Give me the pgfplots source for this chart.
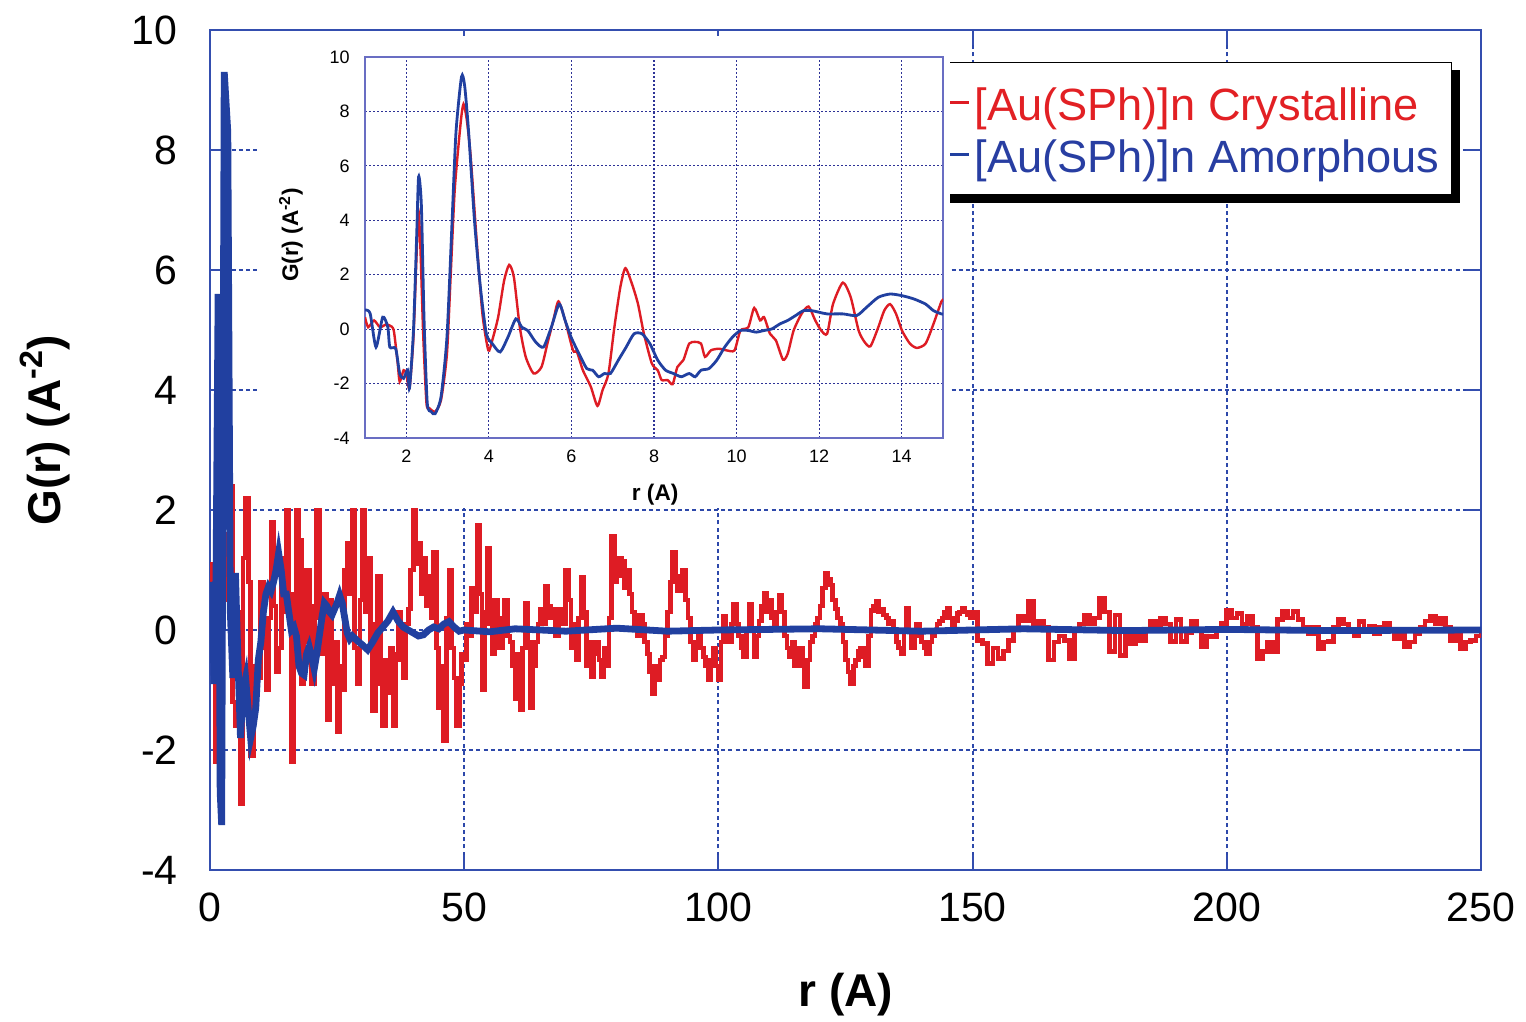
\documentclass[border=0pt]{standalone}
\usepackage{fontspec}
\setmainfont{Liberation Sans}
\usepackage{pgfplots}
\pgfplotsset{compat=1.18}
\definecolor{cred}{RGB}{222,28,36}
\definecolor{cblue}{RGB}{33,64,160}
\definecolor{frame}{RGB}{52,78,175}
\definecolor{mgrid}{RGB}{45,72,170}
\definecolor{iframe}{RGB}{105,110,195}
\definecolor{igrid}{RGB}{45,50,150}
\definecolor{lred}{RGB}{226,32,36}
\definecolor{lblue}{RGB}{40,62,162}
\begin{document}
\begin{tikzpicture}
\path[use as bounding box, fill=white] (0,0) rectangle (763pt,511pt);
\begin{axis}[
  at={(105pt,76pt)}, anchor=south west,
  width=635.5pt, height=420pt, scale only axis,
  xmin=0, xmax=250, ymin=-4, ymax=10,
  xtick={0,50,100,150,200,250},
  ytick={-4,-2,0,2,4,6,8,10},
  yticklabels={-4,-2,0,2,4,6,8,10},
  xticklabels={0,50,100,150,200,250},
  tick align=inside, major tick length=7.5pt,
  tick style={frame, line width=1pt},
  axis line style={frame, line width=1.2pt},
  grid=major,
  major grid style={mgrid, line width=1pt, dash pattern=on 2pt off 1.6pt},
  ticklabel style={font=\fontsize{20.5}{24}\selectfont},
  xticklabel style={inner sep=0pt, anchor=north, yshift=-11pt},
  yticklabel style={inner sep=0pt, anchor=east, xshift=-16pt},
  xlabel={\textbf{r (A)}},
  ylabel={\textbf{G(r) (A\textsuperscript{-2})}},
  label style={font=\fontsize{23}{27}\selectfont},
  xlabel style={at={(axis description cs:0.5004,-0.1488)}, anchor=center},
  ylabel style={at={(axis description cs:-0.1298,0.5238)}, anchor=center, rotate=0},
  legend style={name=leg, at={(axis description cs:0.9772,0.9619)}, anchor=north east,
    draw=black, line width=0.7pt, fill=white, inner xsep=4pt, inner ysep=7pt,
    font=\fontsize{22.6}{27}\selectfont,
    nodes={inner xsep=2pt, inner ysep=0pt, text height=22pt, text depth=4pt}},
  legend image code/.code={\draw[#1, line width=1.6pt] (0pt,0pt) -- (21pt,0pt);},
  legend cell align=left,
]
\addplot[const plot, cred, line width=2.4pt] coordinates {
(0,0) (0.5,1.1) (1,-2.2) (1.5,-0.6) (2,0.4) (2.5,1.0) (3,1.6) (3.5,0.5) (4,2.4) (4.5,-1.2)
(5,-1.6) (5.5,0.3) (6,-2.9) (6.5,1.2) (7,2.2) (7.5,0.8) (8,-2.1) (8.5,-1.0) (9,-0.6) (9.5,-0.8)
(10,0.8) (10.5,-0.3) (11,-1.0) (11.5,0.2) (12,1.8) (12.5,0.4) (13,-0.7) (13.5,-0.3) (14,1.2) (14.5,0.3)
(15,2.5) (15.5,0.6) (16,-2.2) (16.5,-0.5) (17,2.5) (17.5,1.5) (18,-0.9) (18.5,-0.2) (19,1.0) (19.5,0.2)
(20,-0.9) (20.5,0.4) (21,2.5) (21.5,0.2) (22,-0.4) (22.5,0.6) (23,-1.5) (23.5,0.5) (24,-0.9) (24.5,-0.2)
(25,-1.7) (25.5,-0.6) (26,-1.0) (26.5,1.0) (27,1.45) (27.5,0.6) (28,2.2) (28.5,-0.3) (29,-0.9) (29.5,0.5)
(30,2.5) (30.5,0.3) (31,1.2) (31.5,-0.2) (32,-1.35) (32.5,0.1) (33,0.9) (33.5,-0.9) (34,-1.6) (34.5,-0.5)
(35,-1.05) (35.5,-0.3) (36,-1.6) (36.5,-0.4) (37,0.3) (37.5,-0.5) (38,-0.8) (38.5,0.1) (39,0.35) (39.5,1.0)
(40,2.5) (40.5,1.1) (41,1.45) (41.5,0.6) (42,1.2) (42.5,0.4) (43,0.9) (43.5,0.2) (44,1.3) (44.5,-0.3)
(45,-1.3) (45.5,-0.6) (46,-1.85) (46.5,0.2) (47,1.0) (47.5,-0.3) (48,-0.8) (48.5,-1.6) (49,-0.9) (49.5,-0.4)
(50,-0.5) (50.5,0.1) (51,-0.1) (51.5,0.7) (52,0.3) (52.5,1.75) (53,0.6) (53.5,-1.0) (54,0.3) (54.5,1.36)
(55,0.1) (55.5,-0.4) (56,0.5) (56.5,0.1) (57,-0.3) (57.5,0.2) (58,0.5) (58.5,-0.1) (59,-0.2) (59.5,-0.6)
(60,-1.15) (60.5,-0.4) (61,-1.33) (61.5,-0.3) (62,0.45) (62.5,-0.2) (63,-1.3) (63.5,-0.6) (64,-0.2) (64.5,0.1)
(65,0.35) (65.5,0.1) (66,0.72) (66.5,0.4) (67,0.2) (67.5,0.35) (68,-0.1) (68.5,0.2) (69,0.35) (69.5,0.1)
(70,0.99) (70.5,0.5) (71,-0.3) (71.5,0.1) (72,-0.5) (72.5,0.2) (73,0.88) (73.5,0.3) (74,-0.6) (74.5,-0.2)
(75,-0.78) (75.5,-0.4) (76,-0.2) (76.5,-0.5) (77,-0.78) (77.5,-0.3) (78,-0.6) (78.5,0.2) (79,1.56) (79.5,0.8)
(80,0.9) (80.5,1.2) (81,1.15) (81.5,0.7) (82,1.0) (82.5,0.6) (83,0.3) (83.5,0.0) (84,-0.1) (84.5,0.25)
(85,0.1) (85.5,-0.2) (86,-0.4) (86.5,-0.7) (87,-1.06) (87.5,-0.6) (88,-0.83) (88.5,-0.5) (89,-0.45) (89.5,-0.1)
(90,0.3) (90.5,0.8) (91,1.3) (91.5,0.9) (92,0.65) (92.5,0.9) (93,1.0) (93.5,0.5) (94,0.2) (94.5,-0.2)
(95,-0.5) (95.5,-0.2) (96,-0.1) (96.5,-0.3) (97,-0.45) (97.5,-0.6) (98,-0.83) (98.5,-0.5) (99,-0.3) (99.5,-0.6)
(100,-0.83) (100.5,-0.2) (101,0.22) (101.5,0.0) (102,-0.2) (102.5,0.1) (103,0.42) (103.5,0.1) (104,-0.1) (104.5,-0.3)
(105,-0.44) (105.5,0.0) (106,0.42) (106.5,0.0) (107,-0.44) (107.5,-0.1) (108,0.15) (108.5,0.4) (109,0.61) (109.5,0.3)
(110,0.5) (110.5,0.2) (111,0.05) (111.5,0.3) (112,0.58) (112.5,0.3) (113,-0.1) (113.5,-0.3) (114,-0.44) (114.5,-0.2)
(115,-0.6) (115.5,-0.4) (116,-0.3) (116.5,-0.6) (117,-0.94) (117.5,-0.5) (118,-0.2) (118.5,-0.1) (119,0.1) (119.5,0.2)
(120,0.4) (120.5,0.7) (121,0.94) (121.5,0.85) (122,0.75) (122.5,0.5) (123,0.35) (123.5,0.2) (124,0.1) (124.5,-0.2)
(125,-0.5) (125.5,-0.7) (126,-0.89) (126.5,-0.6) (127,-0.5) (127.5,-0.35) (128,-0.3) (128.5,-0.45) (129,-0.6) (129.5,-0.1)
(130,0.33) (130.5,0.4) (131,0.47) (131.5,0.3) (132,0.35) (132.5,0.25) (133,0.2) (133.5,0.1) (134,0.15) (134.5,0.0)
(135,-0.2) (135.5,-0.3) (136,-0.4) (136.5,0.0) (137,0.36) (137.5,0.0) (138,-0.3) (138.5,-0.1) (139,0.1) (139.5,0.0)
(140,-0.2) (140.5,-0.3) (141,-0.39) (141.5,-0.2) (142,-0.1) (142.5,0.0) (143,0.1) (143.5,0.15) (144,0.2) (144.5,0.3)
(145,0.36) (145.5,0.2) (146,0.05) (146.5,0.15) (147,0.28) (147.5,0.3) (148,0.36) (148.5,0.3) (149,0.25) (149.5,0.2)
(150,0.3) (151,-0.17) (152,-0.22) (153,-0.56)
(154,-0.3) (155,-0.47) (156,-0.35) (157,-0.17) (158,0.0) (159,0.22) (160,0.15) (161,0.47) (162,0.1) (163,0.14)
(164,0.05) (165,-0.5) (166,-0.2) (167,-0.1) (168,-0.17) (169,-0.47) (170,0.0) (171,0.1) (172,0.25) (173,0.1)
(174,0.2) (175,0.53) (176,0.3) (177,-0.36) (178,0.25) (179,-0.42) (180,-0.1) (181,-0.22) (182,-0.1) (183,-0.17)
(184,0.0) (185,0.14) (186,0.0) (187,0.19) (188,0.1) (189,-0.19) (190,0.17) (191,-0.19) (192,-0.05) (193,0.14)
(194,0.0) (195,-0.28) (196,-0.1) (197,-0.11) (198,0.0) (199,0.11) (200,0.33) (201,0.2) (202,0.28) (203,0.1)
(204,0.22) (205,0.05) (206,-0.47) (207,-0.36) (208,-0.2) (209,-0.36) (210,0.17) (211,0.31) (212,0.2) (213,0.31)
(214,0.17) (215,0.05) (216,-0.06) (217,0.05) (218,-0.31) (219,-0.2) (220,-0.19) (221,0.05) (222,0.17) (223,0.1)
(224,0.0) (225,-0.1) (226,0.14) (227,0.0) (228,0.06) (229,-0.06) (230,0.05) (231,0.11) (232,0.0) (233,-0.14)
(234,-0.05) (235,-0.28) (236,-0.2) (237,-0.06) (238,0.05) (239,0.15) (240,0.22) (241,0.1) (242,0.19) (243,0.05)
(244,-0.17) (245,-0.05) (246,-0.31) (247,-0.2) (248,-0.17) (249,-0.1) (250,0.0)
};
\addplot[cblue, line width=3.4pt] coordinates {
(0,0) (0.4,0.8) (0.8,-0.9) (1.2,1.0) (1.6,5.6) (2.0,-2.7) (2.3,-3.25) (2.8,9.3) (3.5,8.3) (4.0,0.3)
(4.5,-0.8) (5.0,0.95) (5.5,-0.5) (6.0,-1.8) (6.5,-1.0) (7.0,-0.8) (7.5,-1.3) (8.0,-1.8) (8.5,-1.6) (9.0,-1.3)
(9.5,-0.5) (10.0,-0.2) (10.5,0.3) (11.0,0.6) (11.5,0.72) (12.0,0.65) (12.5,0.8) (13.0,1.0) (13.5,1.28) (14.0,1.0)
(14.5,0.6) (15.0,0.6) (15.5,0.3) (16.0,0.0) (16.5,0.05) (17.0,-0.1) (17.5,-0.6) (18.0,-0.72) (18.5,-0.75) (19.0,-0.4)
(19.5,-0.28) (20.0,-0.45) (20.5,-0.65) (21.0,-0.4) (21.5,-0.1) (22.0,0.2) (22.5,0.45) (23.0,0.4) (23.5,0.3) (24.0,0.25)
(24.5,0.35) (25.0,0.45) (25.5,0.58) (26.0,0.45) (26.5,0.2) (27.0,-0.05) (27.5,-0.15) (28.0,-0.1) (29.0,-0.18) (30.0,-0.25)
(31.0,-0.33) (32.0,-0.2) (33.0,-0.05) (34.0,0.05) (35.0,0.15) (36.0,0.3) (37.0,0.15) (38.0,0.05) (39.0,0.0) (40.0,-0.05)
(41.0,-0.1) (42.0,-0.08) (43.0,0.0) (44.0,0.05) (45.0,0.02) (46.0,0.1) (47.0,0.14) (48.0,0.05) (49.0,-0.02) (50.0,0.0)
(55,-0.03) (60,0.02) (70,-0.02) (80,0.03) (90,-0.02) (100,0.0) (120,0.02) (140,-0.02) (160,0.02) (180,-0.01)
(200,0.01) (220,-0.01) (250,0.0)
};
\legend{\textcolor{lred}{[Au(SPh)]n Crystalline},\textcolor{lblue}{[Au(SPh)]n Amorphous}}
\end{axis}
\fill[black] ([yshift=-4pt]leg.north east) rectangle ([xshift=4pt,yshift=-4pt]leg.south east);
\fill[black] ([xshift=4pt]leg.south west) rectangle ([xshift=4pt,yshift=-4pt]leg.south east);
\fill[white] (129pt,257pt) rectangle (475pt,493pt);
\begin{axis}[
  at={(182.5pt,292pt)}, anchor=south west,
  width=289pt, height=190.5pt, scale only axis,
  xmin=1, xmax=15, ymin=-4, ymax=10,
  xtick={2,4,6,8,10,12,14},
  ytick={-4,-2,0,2,4,6,8,10},
  yticklabels={-4,-2,0,2,4,6,8,10},
  xticklabels={2,4,6,8,10,12,14},
  axis line style={iframe, line width=0.7pt},
  major tick length=0pt,
  grid=major,
  major grid style={igrid, line width=0.6pt, dash pattern=on 0.8pt off 1.2pt},
  ticklabel style={font=\fontsize{9}{10}\selectfont},
  xticklabel style={inner sep=0pt, anchor=north, yshift=-6pt},
  yticklabel style={inner sep=0pt, anchor=east, xshift=-7.5pt},
  xlabel={\textbf{r (A)}},
  ylabel={\textbf{G(r) (A\textsuperscript{-2})}},
  label style={font=\fontsize{11.3}{13}\selectfont},
  xlabel style={at={(axis description cs:0.502,-0.150)}, anchor=center},
  ylabel style={at={(axis description cs:-0.128,0.533)}, anchor=center, rotate=0},
]
\addplot[cred, line width=1.2pt, smooth, tension=0.4] coordinates {
(1.000,0.44) (1.076,0.07) (1.219,0.32) (1.363,0.07) (1.506,0.17) (1.601,0.13) (1.697,-0.05) (1.792,-1.26)
(1.840,-1.93) (1.935,-1.51) (2.002,-1.63) (2.078,-2.17) (2.174,-0.29) (2.250,2.75) (2.298,4.33) (2.345,2.87)
(2.412,-0.29) (2.489,-2.72) (2.555,-2.90) (2.698,-3.03) (2.842,-2.60) (2.985,-0.90) (3.080,2.14) (3.176,5.18)
(3.319,7.61) (3.386,8.27) (3.462,7.73) (3.557,6.39) (3.700,3.35) (3.844,0.56) (3.987,-0.78) (4.082,-0.41)
(4.225,0.44) (4.368,1.77) (4.492,2.36) (4.607,1.90) (4.750,0.07) (4.893,-1.02) (5.084,-1.63) (5.275,-1.39)
(5.418,-0.53) (5.561,0.32) (5.685,1.02) (5.847,0.32) (6.038,-0.78) (6.134,-0.84) (6.277,-1.51) (6.468,-2.11)
(6.630,-2.82) (6.754,-2.24) (6.897,-1.63) (7.040,0.07) (7.183,1.53) (7.307,2.24) (7.469,1.65) (7.613,0.92)
(7.756,-0.17) (7.947,-1.26) (8.090,-1.51) (8.185,-1.87) (8.328,-1.87) (8.452,-2.02) (8.567,-1.39) (8.710,-1.14)
(8.853,-0.53) (8.996,-0.47) (9.139,-0.53) (9.235,-1.02) (9.378,-0.78) (9.569,-0.72) (9.760,-0.78) (9.950,-0.78)
(10.094,-0.05) (10.284,0.07) (10.427,0.78) (10.571,0.32) (10.666,0.44) (10.809,-0.17) (10.952,-0.41) (11.124,-1.12)
(11.239,-0.90) (11.382,-0.05) (11.573,0.56) (11.744,0.83) (11.906,0.32) (12.050,-0.05) (12.193,-0.17) (12.336,0.92)
(12.574,1.71) (12.765,1.17) (12.956,-0.05) (13.099,-0.47) (13.242,-0.63) (13.433,0.07) (13.576,0.68) (13.719,0.92)
(13.863,0.56) (14.006,-0.05) (14.197,-0.53) (14.368,-0.69) (14.578,-0.53) (14.769,0.19) (14.960,1.01) (15.0,1.05)
};
\addplot[cblue, line width=1.4pt, smooth, tension=0.4] coordinates {
(1.000,0.70) (1.124,0.58) (1.267,-0.66) (1.429,0.44) (1.553,0.07) (1.601,-0.66) (1.744,-0.72) (1.840,-1.63)
(1.935,-1.81) (2.031,-1.51) (2.078,-2.17) (2.174,-0.05) (2.250,3.35) (2.298,5.60) (2.365,4.57) (2.431,0.32)
(2.508,-2.72) (2.603,-3.03) (2.698,-3.11) (2.842,-2.48) (2.985,-0.29) (3.109,3.96) (3.204,7.24) (3.338,9.28)
(3.414,8.94) (3.510,7.24) (3.653,3.96) (3.796,1.53) (3.939,-0.17) (4.082,-0.53) (4.273,-0.84) (4.464,-0.29)
(4.655,0.38) (4.798,0.07) (4.941,-0.05) (5.132,-0.47) (5.323,-0.66) (5.513,0.07) (5.704,0.92) (5.847,0.32)
(5.990,-0.29) (6.181,-0.90) (6.372,-1.45) (6.515,-1.51) (6.658,-1.75) (6.802,-1.63) (6.945,-1.63) (7.136,-1.14)
(7.326,-0.66) (7.517,-0.17) (7.708,-0.17) (7.899,-0.53) (8.090,-1.14) (8.281,-1.51) (8.471,-1.63) (8.662,-1.75)
(8.853,-1.63) (8.996,-1.75) (9.139,-1.51) (9.330,-1.45) (9.521,-1.14) (9.712,-0.66) (9.903,-0.29) (10.094,-0.05)
(10.284,-0.05) (10.475,-0.11) (10.666,-0.05) (10.857,0.01) (11.048,0.19) (11.239,0.32) (11.430,0.50) (11.620,0.68)
(11.811,0.68) (12.002,0.62) (12.193,0.56) (12.574,0.56) (12.908,0.50) (13.147,0.80) (13.433,1.17) (13.719,1.29)
(14.006,1.23) (14.292,1.11) (14.578,0.92) (14.769,0.68) (14.960,0.56) (15.0,0.55)
};
\end{axis}
\end{tikzpicture}
\end{document}
